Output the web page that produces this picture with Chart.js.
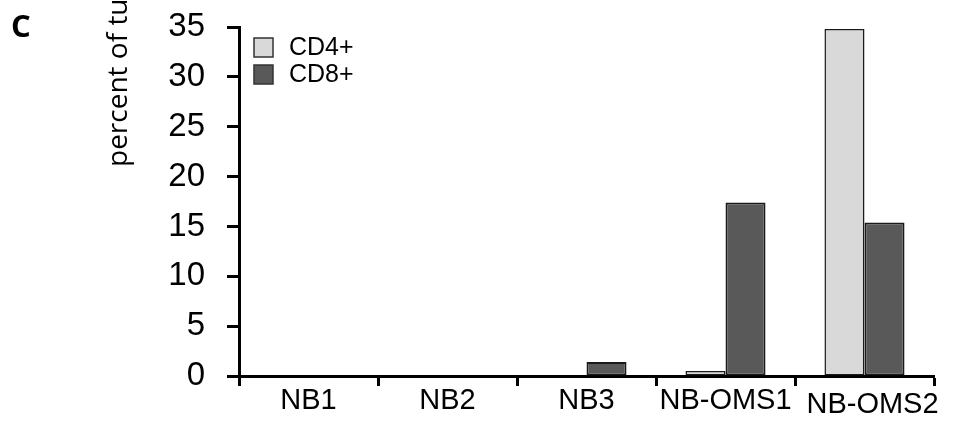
<!DOCTYPE html>
<html>
<head>
<meta charset="utf-8">
<script src="https://cdn.jsdelivr.net/npm/chart.js@4.4.1/dist/chart.umd.min.js"></script>
<style>
  html, body { margin: 0; padding: 0; background: #ffffff; }
  #wrap { width: 964px; height: 423px; }
</style>
</head>
<body>
<div id="wrap"><canvas id="chart" width="964" height="423"></canvas></div>
<script>
// Tumor samples on the x axis
const categories = ['NB1', 'NB2', 'NB3', 'NB-OMS1', 'NB-OMS2'];
// Percent of infiltrating T cells per sample
const cd4Values = [0, 0, 0, 0.5, 34.8];
const cd8Values = [0, 0, 1.4, 17.4, 15.4];
// Y axis range and step
const yTicks = [0, 5, 10, 15, 20, 25, 30, 35];

const seriesNames = ['CD4+', 'CD8+'];
const seriesColors = ['#d9d9d9', '#595959'];
const axisTitle = 'percent of tumor cells';
const panelLetter = 'C';

const SANS = '"Liberation Sans", Arial, sans-serif';

// The last category label is nudged right/down so it clears its neighbour
const lastLabelNudge = [8, 4];

const nudgeLastLabel = {
  id: 'nudgeLastLabel',
  beforeDraw(chart) {
    const items = chart.scales.x.getLabelItems();
    const last = items[items.length - 1];
    if (last && !last._nudged) {
      last.options.translation[0] += lastLabelNudge[0];
      last.options.translation[1] += lastLabelNudge[1];
      last._nudged = true;
    }
  }
};

// Panel letter, rotated axis title and an inset legend
const decorations = {
  id: 'decorations',
  afterDraw(chart) {
    const ctx = chart.ctx;
    const area = chart.chartArea;
    ctx.save();
    ctx.fillStyle = '#000';

    // panel letter
    ctx.font = 'bold 31px "Open Sans", sans-serif';
    ctx.textBaseline = 'alphabetic';
    ctx.textAlign = 'left';
    ctx.fillText(panelLetter, 11, 37);

    // y axis title, running up past the top edge
    ctx.save();
    ctx.translate(area.left - 112, area.top + 140);
    ctx.rotate(-Math.PI / 2);
    ctx.font = '28px "Open Sans", sans-serif';
    ctx.textAlign = 'left';
    ctx.textBaseline = 'alphabetic';
    ctx.fillText(axisTitle, 0, 0);
    ctx.restore();

    // legend
    const lx = area.left + 15;
    let ly = area.top + 11;
    ctx.font = '25px ' + SANS;
    ctx.textBaseline = 'middle';
    chart.data.datasets.forEach((ds) => {
      ctx.fillStyle = ds.backgroundColor;
      ctx.fillRect(lx, ly, 19, 19);
      ctx.strokeStyle = '#333';
      ctx.lineWidth = 1.5;
      ctx.strokeRect(lx, ly, 19, 19);
      ctx.fillStyle = '#000';
      ctx.fillText(ds.label, lx + 35, ly + 10);
      ly += 27;
    });
    ctx.restore();
  }
};

new Chart(document.getElementById('chart'), {
  type: 'bar',
  data: {
    labels: categories,
    datasets: [
      {
        label: seriesNames[0],
        data: cd4Values,
        backgroundColor: seriesColors[0],
        borderColor: '#1a1a1a',
        borderWidth: 1.5,
        borderSkipped: false
      },
      {
        label: seriesNames[1],
        data: cd8Values,
        backgroundColor: seriesColors[1],
        borderColor: '#1a1a1a',
        borderWidth: 2,
        borderSkipped: false
      }
    ]
  },
  options: {
    responsive: false,
    animation: false,
    devicePixelRatio: 1,
    layout: { padding: { left: 0, top: 27, right: 30, bottom: 0 } },
    datasets: { bar: { categoryPercentage: 0.576, barPercentage: 1.0 } },
    plugins: {
      legend: { display: false },
      tooltip: { enabled: false }
    },
    scales: {
      x: {
        offset: true,
        grid: {
          offset: true,
          drawOnChartArea: false,
          drawTicks: true,
          tickLength: 10,
          tickWidth: 3,
          tickColor: '#000'
        },
        border: { display: true, color: '#000', width: 3 },
        ticks: {
          color: '#000',
          padding: -2,
          maxRotation: 0,
          autoSkip: false,
          font: { family: SANS, size: 29 }
        },
        afterFit(scale) {
          scale.height = 47;
          scale.paddingLeft = 0;
          scale.paddingRight = 0;
        }
      },
      y: {
        min: yTicks[0],
        max: yTicks[yTicks.length - 1],
        afterBuildTicks(scale) { scale.ticks = yTicks.map(v => ({ value: v })); },
        grid: {
          drawOnChartArea: false,
          drawTicks: true,
          tickLength: 12,
          tickWidth: 3,
          tickColor: '#000'
        },
        border: { display: true, color: '#000', width: 3 },
        ticks: {
          color: '#000',
          padding: 22,
          font: { family: SANS, size: 33 }
        },
        afterFit(scale) {
          scale.width = 239;
          scale.paddingTop = 0;
          scale.paddingBottom = 0;
        }
      }
    }
  },
  plugins: [nudgeLastLabel, decorations]
});
</script>
</body>
</html>
